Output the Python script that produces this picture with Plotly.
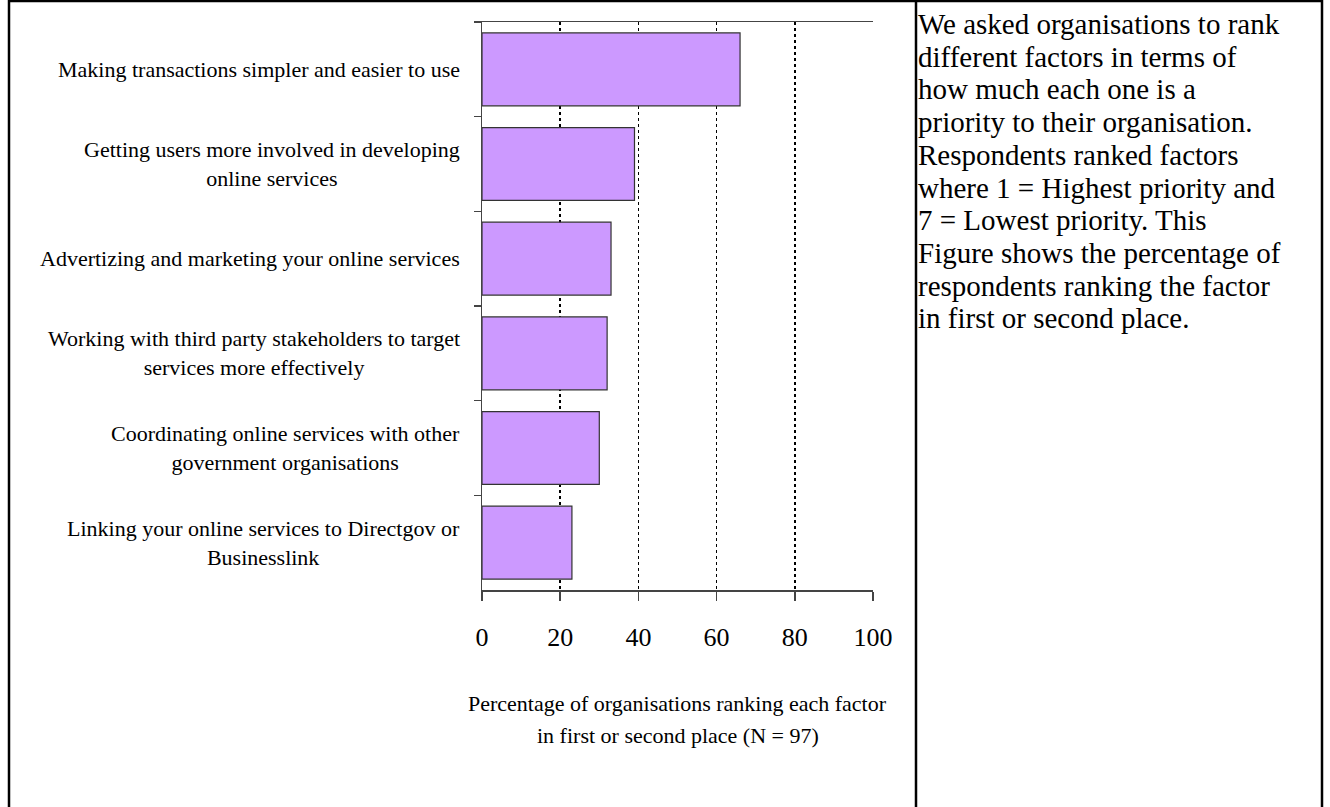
import plotly.graph_objects as go

categories = [
    "Making transactions simpler and easier to use",
    "Getting users more involved in developing<br>online services",
    "Advertizing and marketing your online services",
    "Working with third party stakeholders to target<br>services more effectively",
    "Coordinating online services with other<br>government organisations",
    "Linking your online services to Directgov or<br>Businesslink",
]
values = [66, 39, 33, 32, 30, 23]
x_ticks = [0, 20, 40, 60, 80, 100]
x_title_lines = [
    "Percentage of organisations ranking each factor",
    "in first or second place (N = 97)",
]
note_lines = [
    "We asked organisations to rank",
    "different factors in terms of",
    "how much each one is a",
    "priority to their organisation.",
    "Respondents ranked factors",
    "where 1 = Highest priority and",
    "7 = Lowest priority. This",
    "Figure shows the percentage of",
    "respondents ranking the factor",
    "in first or second place.",
]

W, H = 1330, 807
FONT = "Liberation Serif, Times New Roman, serif"


def px_x(p):
    return p / W


def px_y(p):
    return 1 - p / H


fig = go.Figure()
fig.add_trace(go.Bar(
    x=values,
    y=categories,
    orientation="h",
    marker=dict(color="#CC99FF", line=dict(color="#333333", width=1.2)),
    showlegend=False,
    hoverinfo="x+y",
))

fig.update_layout(
    template="none",
    width=W,
    height=H,
    autosize=False,
    showlegend=False,
    margin=dict(l=0, r=0, t=0, b=0, pad=0, autoexpand=False),
    paper_bgcolor="white",
    plot_bgcolor="white",
    bargap=0.23,
    font=dict(family=FONT, color="black"),
    xaxis=dict(
        domain=[px_x(482), px_x(873)],
        range=[0, 100],
        automargin=False,
        tickmode="array",
        tickvals=x_ticks,
        ticktext=[str(v) for v in x_ticks],
        tickfont=dict(family=FONT, size=26, color="black"),
        ticks="outside",
        ticklen=9,
        tickwidth=1.5,
        tickcolor="#444444",
        showline=True,
        linecolor="#444444",
        linewidth=1.5,
        mirror=True,
        showgrid=True,
        gridcolor="black",
        gridwidth=1.8,
        griddash="dot",
        zeroline=False,
        ticklabelstandoff=14,
    ),
    yaxis=dict(
        domain=[px_y(590), px_y(22)],
        autorange="reversed",
        type="category",
        automargin=False,
        tickson="boundaries",
        ticks="outside",
        ticklen=7,
        tickwidth=1.5,
        tickcolor="#444444",
        showticklabels=False,
        showline=True,
        linecolor="#444444",
        linewidth=1.5,
        showgrid=False,
        zeroline=False,
    ),
)

# category labels (centered multi-line, right edge near axis)
for cat in categories:
    fig.add_annotation(
        x=px_x(462), xref="paper", xanchor="right",
        y=cat, yref="y", yanchor="middle",
        text=cat, showarrow=False, align="center",
        font=dict(family=FONT, size=22, color="black"),
    )

# x-axis title lines
for i, line in enumerate(x_title_lines):
    fig.add_annotation(
        x=(px_x(482) + px_x(873)) / 2, xref="paper", xanchor="center",
        y=px_y(703 + 32 * i), yref="paper", yanchor="middle",
        text=line, showarrow=False,
        font=dict(family=FONT, size=22, color="black"),
    )

# explanatory note on the right
for i, line in enumerate(note_lines):
    fig.add_annotation(
        x=px_x(917), xref="paper", xanchor="left",
        y=px_y(24 + 32.7 * i), yref="paper", yanchor="middle",
        text=line, showarrow=False, align="left", borderpad=0,
        font=dict(family=FONT, size=29, color="black"),
    )

# outer frame and divider
frame = dict(color="black", width=2.5)
fig.add_shape(type="line", xref="paper", yref="paper",
              x0=px_x(9), x1=px_x(9), y0=0, y1=1, line=frame)
fig.add_shape(type="line", xref="paper", yref="paper",
              x0=px_x(9), x1=px_x(1322), y0=px_y(1), y1=px_y(1), line=frame)
fig.add_shape(type="line", xref="paper", yref="paper",
              x0=px_x(1322), x1=px_x(1322), y0=0, y1=1, line=frame)
fig.add_shape(type="line", xref="paper", yref="paper",
              x0=px_x(916), x1=px_x(916), y0=0, y1=px_y(1), line=frame)

fig.write_html(
    "out.html",
    config={"responsive": False, "displayModeBar": False, "staticPlot": True},
    post_script=(
        "document.documentElement.style.margin='0';"
        "document.documentElement.style.overflow='hidden';"
        "document.body.style.margin='0';"
        "document.body.style.overflow='hidden';"
    ),
)
